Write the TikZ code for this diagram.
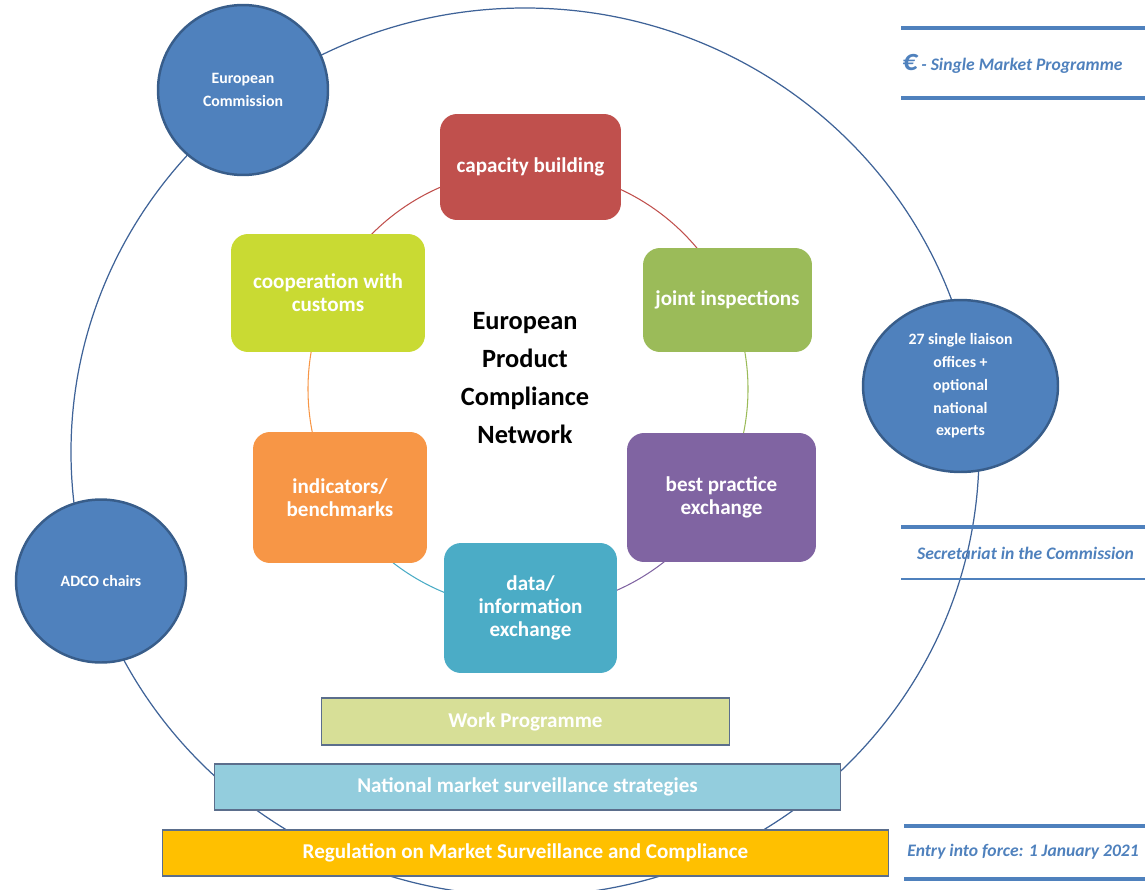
\documentclass[tikz,border=0pt]{standalone}
\usepackage{fontspec}
\setmainfont{Carlito}
\usetikzlibrary{shapes.geometric}
\definecolor{ecblue}{HTML}{4F81BD}
\definecolor{ecedge}{HTML}{385D8A}
\definecolor{ringline}{HTML}{3F6398}
\definecolor{capred}{HTML}{C0504D}
\definecolor{jointgreen}{HTML}{9BBB59}
\definecolor{bestpurple}{HTML}{8064A2}
\definecolor{datateal}{HTML}{4BACC6}
\definecolor{indorange}{HTML}{F79646}
\definecolor{coopgreen}{HTML}{C9DA33}
\definecolor{workfill}{HTML}{D7DF97}
\definecolor{nmsfill}{HTML}{93CDDD}
\definecolor{regfill}{HTML}{FFC000}
\definecolor{baredge}{HTML}{5B6E8C}
\begin{document}
\begin{tikzpicture}[x=0.02cm,y=-0.02cm,
  actor/.style={ellipse,draw=ecedge,line width=1.4pt,fill=ecblue,text=white,
    font=\bfseries\fontsize{9}{13}\selectfont,align=center,inner sep=0pt},
  task/.style={rounded corners=0.34cm,fill=#1,text=white,
    font=\bfseries\fontsize{12}{13}\selectfont,align=center,inner sep=0pt},
  bar/.style={draw=baredge,line width=0.6pt,fill=#1,text=white,
    font=\bfseries\fontsize{12}{14}\selectfont,inner sep=0pt},
  note/.style={text=ecblue,font=\bfseries\itshape\fontsize{10}{12}\selectfont,inner sep=0pt},
  rulebar/.style={ecblue,line width=2.3pt}]
  \useasboundingbox (0,0) rectangle (1145,889);
  % outer ring
  \draw[ringline,line width=0.7pt] (525,452) ellipse [x radius=454,y radius=444];
  % inner cycle
  \coordinate (hub) at (528,389);
  \foreach \a/\b/\c in {-90/-24/capred,-24/29/jointgreen,29/90/bestpurple,
      90/150/datateal,150/206/indorange,206/270/capred}
    \draw[\c,line width=0.6pt] (hub) ++(\a:220) arc[start angle=\a,end angle=\b,radius=220];
  \node[task=capred,minimum width=3.62cm,minimum height=2.12cm] (cap) at (530.5,167) {capacity building};
  \node[task=jointgreen,minimum width=3.38cm,minimum height=2.08cm] (joint) at (727.5,300) {joint inspections};
  \node[task=bestpurple,minimum width=3.78cm,minimum height=2.58cm] (best) at (721.5,497.5) {best practice\\exchange};
  \node[task=datateal,minimum width=3.46cm,minimum height=2.6cm] (data) at (530.5,608) {data/\\information\\exchange};
  \node[task=indorange,minimum width=3.48cm,minimum height=2.62cm] (ind) at (340,497.5) {indicators/\\benchmarks};
  \node[task=coopgreen,minimum width=3.88cm,minimum height=2.36cm] (coop) at (328,293) {cooperation with\\customs};
  \node[font=\bfseries\fontsize{15}{21.5}\selectfont,align=center] (epcn) at (525,378)
    {European\\Product\\Compliance\\Network};
  % actors on the ring
  \node[actor,minimum width=3.4cm,minimum height=3.4cm] (ec) at (243,90) {European\\Commission};
  \node[actor,minimum width=3.4cm,minimum height=3.26cm] (adco) at (101,581) {ADCO chairs};
  \node[actor,minimum width=3.9cm,minimum height=3.44cm] (slo) at (960.5,386)
    {27 single liaison\\offices +\\optional\\national\\experts};
  % bottom layers
  \node[bar=workfill,minimum width=8.18cm,minimum height=0.94cm] (work) at (525.5,721.5) {Work Programme};
  \node[bar=nmsfill,minimum width=12.54cm,minimum height=0.92cm] (nms) at (527.5,787) {National market surveillance strategies};
  \node[bar=regfill,minimum width=14.54cm,minimum height=0.92cm] (reg) at (525.5,853) {Regulation on Market Surveillance and Compliance};
  % side notes
  \draw[rulebar] (901,28) -- (1145,28) (901,98) -- (1145,98);
  \node[note,anchor=west] (smp) at (902,64) {{\fontsize{17}{17}\selectfont €} - Single Market Programme};
  \draw[rulebar] (901,527) -- (1145,527);
  \draw[ecblue,line width=0.9pt] (901,579) -- (1145,579);
  \node[note] (sec) at (1025.5,553) {Secretariat in the Commission};
  \draw[rulebar] (904,826) -- (1145,826) (904,879) -- (1145,879);
  \node[note] (eif) at (1023,852) {Entry into force: 1 January 2021};
\end{tikzpicture}
\end{document}
